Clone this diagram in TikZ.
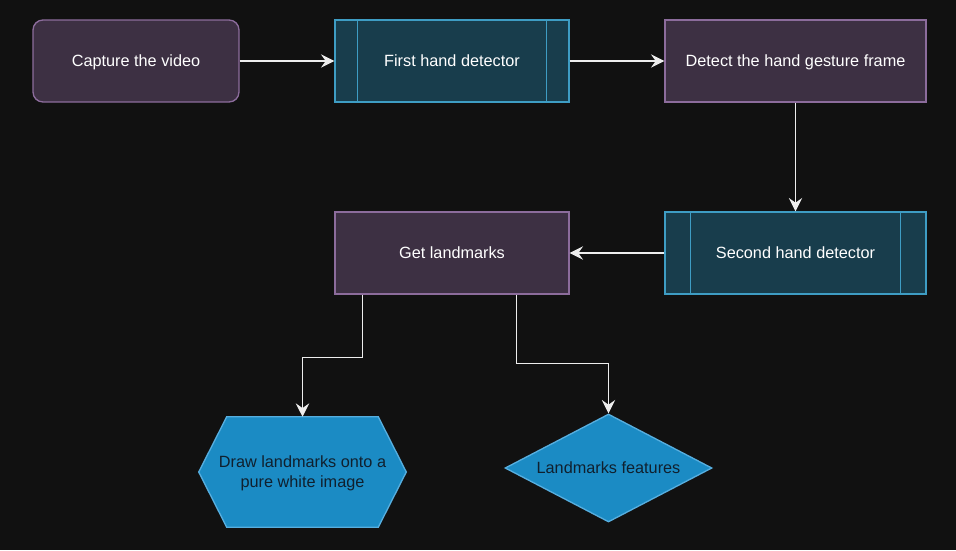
\documentclass[tikz,border=0pt]{standalone}
\usepackage{fontspec}
\setmainfont{Liberation Sans}
\usetikzlibrary{arrows.meta,shapes.geometric,backgrounds}
\definecolor{bgdark}{HTML}{111111}
\definecolor{stepfill}{HTML}{3D3043}
\definecolor{stepline}{HTML}{8C6C9C}
\definecolor{procfill}{HTML}{183D4C}
\definecolor{procline}{HTML}{3E9DC4}
\definecolor{outfill}{HTML}{1B8BC4}
\definecolor{outline}{HTML}{56AEDF}
\definecolor{outtext}{HTML}{10202E}
\definecolor{wire}{HTML}{EEEEEE}

\begin{document}
\begin{tikzpicture}[x=0.75pt,y=-0.75pt,
	every node/.style={font=\fontsize{12.2}{15}\selectfont, inner sep=0pt, text depth=0pt},
	stepbox/.style={draw=stepline, fill=stepfill, text=white, line width=1pt, minimum width=206*0.75pt, minimum height=82*0.75pt},
	procbox/.style={draw=procline, fill=procfill, text=white, line width=1pt, minimum height=82*0.75pt},
	outbox/.style={draw=outline, fill=outfill, text=outtext, line width=1pt},
	link/.style={draw=wire, line width=1.2pt, -{Stealth[length=10pt,width=10pt,inset=3.5pt]}}]
			%%Canvas
			\begin{pgfonlayer}{background}
			\fill[bgdark] (0,0) rectangle (956,550);
			\end{pgfonlayer}
			\useasboundingbox (0,0) rectangle (956,550);
			%%Top row
			\node[stepbox, rounded corners=7.5pt] (capture) at (136,61) {Capture the video};
			\node[procbox, minimum width=234*0.75pt] (first) at (452,61) {First hand detector};
			\node[stepbox, minimum width=261*0.75pt] (gesture) at (795.5,61) {Detect the hand gesture frame};
			%%Middle row
			\node[procbox, minimum width=261*0.75pt] (second) at (795.5,253) {Second hand detector};
			\node[stepbox, minimum width=234*0.75pt] (landmarks) at (452,253) {Get landmarks};
			%%Process bars
			\draw[procline, line width=1pt] ([xshift=23.4*0.75pt]first.north west) -- ([xshift=23.4*0.75pt]first.south west);
			\draw[procline, line width=1pt] ([xshift=-23.4*0.75pt]first.north east) -- ([xshift=-23.4*0.75pt]first.south east);
			\draw[procline, line width=1pt] ([xshift=26*0.75pt]second.north west) -- ([xshift=26*0.75pt]second.south west);
			\draw[procline, line width=1pt] ([xshift=-26*0.75pt]second.north east) -- ([xshift=-26*0.75pt]second.south east);
			%%Outputs
			\node[text=outtext, minimum width=207*0.75pt, minimum height=110*0.75pt, align=center] (draw) at (302.5,472)
				{Draw landmarks onto a\\pure white image};
			\begin{pgfonlayer}{background}
			\draw[outbox] (draw.west) -- ([xshift=28*0.75pt]draw.north west) -- ([xshift=-28*0.75pt]draw.north east)
				-- (draw.east) -- ([xshift=-28*0.75pt]draw.south east) -- ([xshift=28*0.75pt]draw.south west) -- cycle;
			\end{pgfonlayer}
			\node[outbox, diamond, aspect=1.9, minimum width=207*0.75pt, minimum height=108*0.75pt] (features) at (608.5,468) {Landmarks features};
			%%Arrows
			\draw[link] (capture) -- (first);
			\draw[link] (first) -- (gesture);
			\draw[link] (gesture) -- (second);
			\draw[link] (second) -- (landmarks);
			\draw[link] ([xshift=28*0.75pt]landmarks.south west) -- ++(0,63) -| (draw.north);
			\draw[link] ([xshift=182*0.75pt]landmarks.south west) -- ++(0,69) -| (features.north);
\end{tikzpicture}
\end{document}
